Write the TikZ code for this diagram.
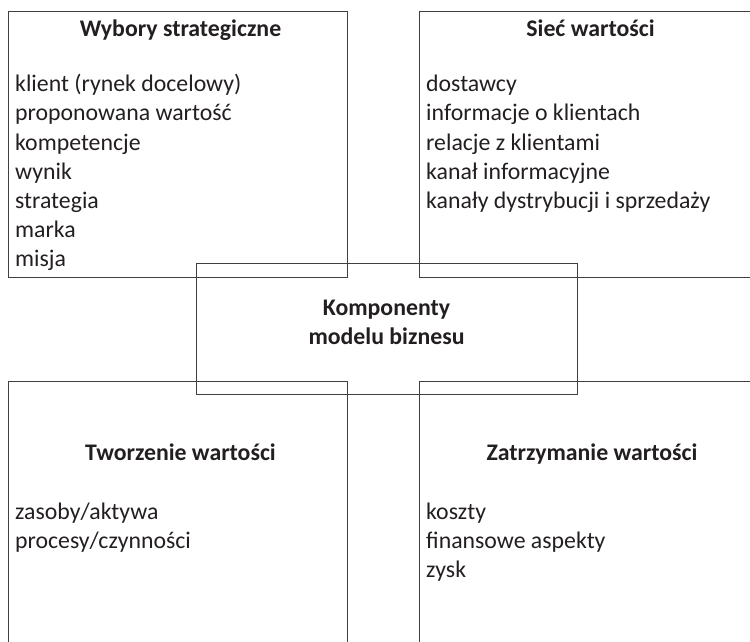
\documentclass[tikz,border=0pt]{standalone}
\usepackage{fontspec}
\setmainfont{Carlito}
\definecolor{linegray}{HTML}{404040}
\definecolor{txt}{HTML}{231F20}
\begin{document}
\begin{tikzpicture}[x=1pt,y=-1pt,
  box/.style={draw=linegray, line width=1pt, rectangle, inner sep=0pt, outer sep=0pt, anchor=north west},
  ttl/.style={font=\bfseries\fontsize{23.8}{29}\selectfont, text=txt, anchor=base, inner sep=0pt},
  item/.style={font=\fontsize{23.8}{29}\selectfont, text=txt, anchor=base west, inner sep=0pt}]
\useasboundingbox (0,0) rectangle (750,642);
\clip (0,0) rectangle (750,642);
% boxes
\node[box, minimum width=339pt, minimum height=265pt] (tl) at (8,12) {};
\node[box, minimum width=341pt, minimum height=265pt] (tr) at (419,12) {};
\node[box, minimum width=339pt, minimum height=280pt] (bl) at (8,381) {};
\node[box, minimum width=341pt, minimum height=280pt] (br) at (419,381) {};
\node[box, minimum width=381pt, minimum height=131pt] (c) at (196,263) {};
% titles
\node[ttl] (tlt) at (180.5,37) {Wybory strategiczne};
\node[ttl] (trt) at (590.5,37) {Sieć wartości};
\node[ttl] (blt) at (180.5,460) {Tworzenie wartości};
\node[ttl] (brt) at (592,460) {Zatrzymanie wartości};
\node[ttl] (ct1) at (386.5,315) {Komponenty};
\node[ttl] (ct2) at (386.5,344) {modelu biznesu};
% items
\foreach \t [count=\i] in {klient (rynek docelowy), proponowana wartość, kompetencje, wynik, strategia, marka, misja}
  \node[item] (tli\i) at (15,{92+29*(\i-1)}) {\t};
\foreach \t [count=\i] in {dostawcy, informacje o klientach, relacje z klientami, kanał informacyjne, kanały dystrybucji i sprzedaży}
  \node[item] (tri\i) at (426,{92+29*(\i-1)}) {\t};
\foreach \t [count=\i] in {zasoby/aktywa, procesy/czynności}
  \node[item] (bli\i) at (15,{519+29*(\i-1)}) {\t};
\foreach \t [count=\i] in {koszty, finansowe aspekty, zysk}
  \node[item] (bri\i) at (426,{519+29*(\i-1)}) {\t};
\end{tikzpicture}
\end{document}
